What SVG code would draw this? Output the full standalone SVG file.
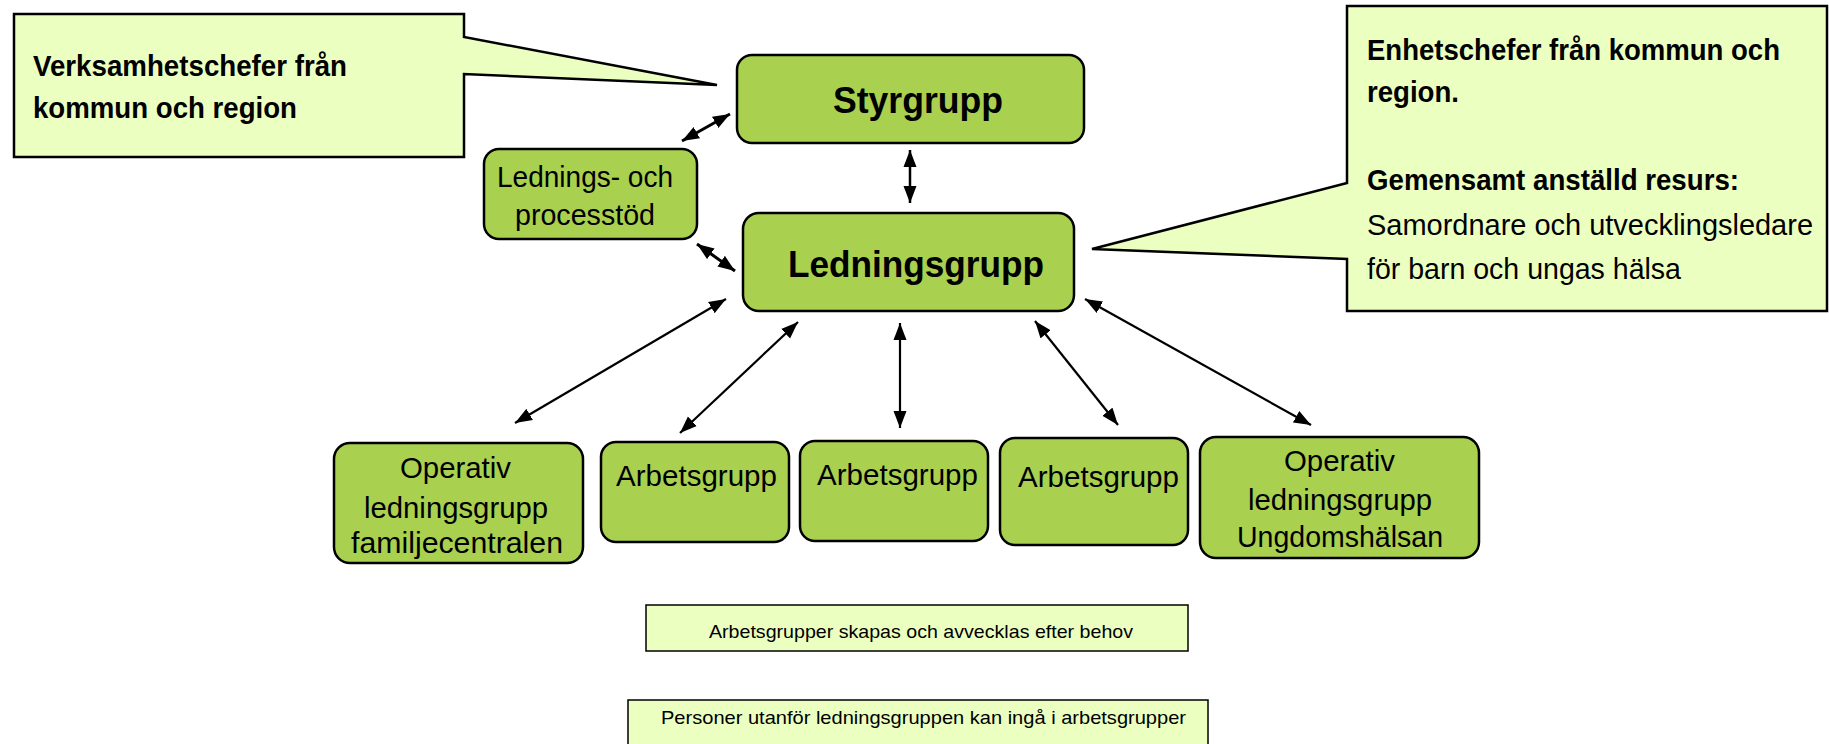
<svg xmlns="http://www.w3.org/2000/svg" width="1829" height="744" viewBox="0 0 1829 744">
<style>
.node{fill:#A9D04F;stroke:#000;stroke-width:2.5}
.call{fill:#EBFFC0;stroke:#000;stroke-width:2.5;stroke-linejoin:miter}
.note{fill:#EBFFC0;stroke:#000;stroke-width:1.5}
text{font-family:"Liberation Sans",Arial,sans-serif;fill:#000}
.b{font-weight:bold}
.t28{font-size:30px}
.t36{font-size:37px}
.t27{font-size:29px}
.t18{font-size:19px}
.con line{stroke:#000;stroke-width:2.2;marker-start:url(#ah);marker-end:url(#ah)}
</style>
<defs>
<marker id="ah" markerUnits="userSpaceOnUse" markerWidth="18" markerHeight="14" refX="17" refY="7" orient="auto-start-reverse" viewBox="0 0 18 14">
<path d="M0,0.5 L17,7 L0,13.5 Z" fill="#000"/>
</marker>
</defs>
<rect width="1829" height="744" fill="#fff"/>

<g id="callout-left">
<path class="call" d="M14,14 H464 V37 L717,85 L464,74 V157 H14 Z"/>
<text class="b t28" x="33" y="76" textLength="314" lengthAdjust="spacingAndGlyphs">Verksamhetschefer från</text>
<text class="b t28" x="33" y="118" textLength="264" lengthAdjust="spacingAndGlyphs">kommun och region</text>
</g>

<g id="callout-right">
<path class="call" d="M1347,6 H1827 V311 H1347 V259 L1092,249 L1347,183 Z"/>
<text class="b t28" x="1367" y="60" textLength="413" lengthAdjust="spacingAndGlyphs">Enhetschefer från kommun och</text>
<text class="b t28" x="1367" y="102" textLength="92" lengthAdjust="spacingAndGlyphs">region.</text>
<text class="b t28" x="1367" y="190" textLength="372" lengthAdjust="spacingAndGlyphs">Gemensamt anställd resurs:</text>
<text class="t28" x="1367" y="235" textLength="446" lengthAdjust="spacingAndGlyphs">Samordnare och utvecklingsledare</text>
<text class="t28" x="1367" y="279" textLength="314" lengthAdjust="spacingAndGlyphs">för barn och ungas hälsa</text>
</g>

<g id="styrgrupp">
<rect class="node" x="737" y="55" width="347" height="88" rx="15"/>
<text class="b t36" x="833" y="113" textLength="170" lengthAdjust="spacingAndGlyphs">Styrgrupp</text>
</g>

<g id="ledningsgrupp">
<rect class="node" x="743" y="213" width="331" height="98" rx="16"/>
<text class="b t36" x="788" y="277" textLength="256" lengthAdjust="spacingAndGlyphs">Ledningsgrupp</text>
</g>

<g id="processtod">
<rect class="node" x="484" y="149" width="213" height="90" rx="15"/>
<text class="t27" x="497" y="187" textLength="176" lengthAdjust="spacingAndGlyphs">Lednings- och</text>
<text class="t27" x="515" y="225" textLength="140" lengthAdjust="spacingAndGlyphs">processtöd</text>
</g>

<g id="op-familjecentralen">
<rect class="node" x="334" y="443" width="249" height="120" rx="16"/>
<text class="t27" x="400" y="478" textLength="111" lengthAdjust="spacingAndGlyphs">Operativ</text>
<text class="t27" x="364" y="518" textLength="184" lengthAdjust="spacingAndGlyphs">ledningsgrupp</text>
<text class="t27" x="351" y="553" textLength="212" lengthAdjust="spacingAndGlyphs">familjecentralen</text>
</g>

<g id="arbetsgrupp1">
<rect class="node" x="601" y="442" width="188" height="100" rx="15"/>
<text class="t27" x="616" y="486" textLength="161" lengthAdjust="spacingAndGlyphs">Arbetsgrupp</text>
</g>

<g id="arbetsgrupp2">
<rect class="node" x="800" y="441" width="188" height="100" rx="15"/>
<text class="t27" x="817" y="485" textLength="161" lengthAdjust="spacingAndGlyphs">Arbetsgrupp</text>
</g>

<g id="arbetsgrupp3">
<rect class="node" x="1000" y="438" width="188" height="107" rx="15"/>
<text class="t27" x="1018" y="487" textLength="161" lengthAdjust="spacingAndGlyphs">Arbetsgrupp</text>
</g>

<g id="op-ungdomshalsan">
<rect class="node" x="1200" y="437" width="279" height="121" rx="16"/>
<text class="t27" x="1284" y="471" textLength="111" lengthAdjust="spacingAndGlyphs">Operativ</text>
<text class="t27" x="1248" y="510" textLength="184" lengthAdjust="spacingAndGlyphs">ledningsgrupp</text>
<text class="t27" x="1237" y="547" textLength="206" lengthAdjust="spacingAndGlyphs">Ungdomshälsan</text>
</g>

<g id="note1">
<rect class="note" x="646" y="605" width="542" height="46"/>
<text class="t18" x="709" y="638" textLength="424" lengthAdjust="spacingAndGlyphs">Arbetsgrupper skapas och avvecklas efter behov</text>
</g>

<g id="note2">
<rect class="note" x="628" y="700" width="580" height="50"/>
<text class="t18" x="661" y="724" textLength="525" lengthAdjust="spacingAndGlyphs">Personer utanför ledningsgruppen kan ingå i arbetsgrupper</text>
</g>

<g id="connectors" class="con">
<line x1="682" y1="141" x2="730" y2="114" style="stroke-width:3"/>
<line x1="910" y1="150" x2="910" y2="203" style="stroke-width:2.5"/>
<line x1="697" y1="244" x2="735" y2="271" style="stroke-width:3"/>
<line x1="726" y1="299" x2="515" y2="423"/>
<line x1="798" y1="322" x2="680" y2="433"/>
<line x1="900" y1="323" x2="900" y2="428"/>
<line x1="1035" y1="321" x2="1118" y2="425"/>
<line x1="1085" y1="299" x2="1311" y2="425"/>
</g>
</svg>
